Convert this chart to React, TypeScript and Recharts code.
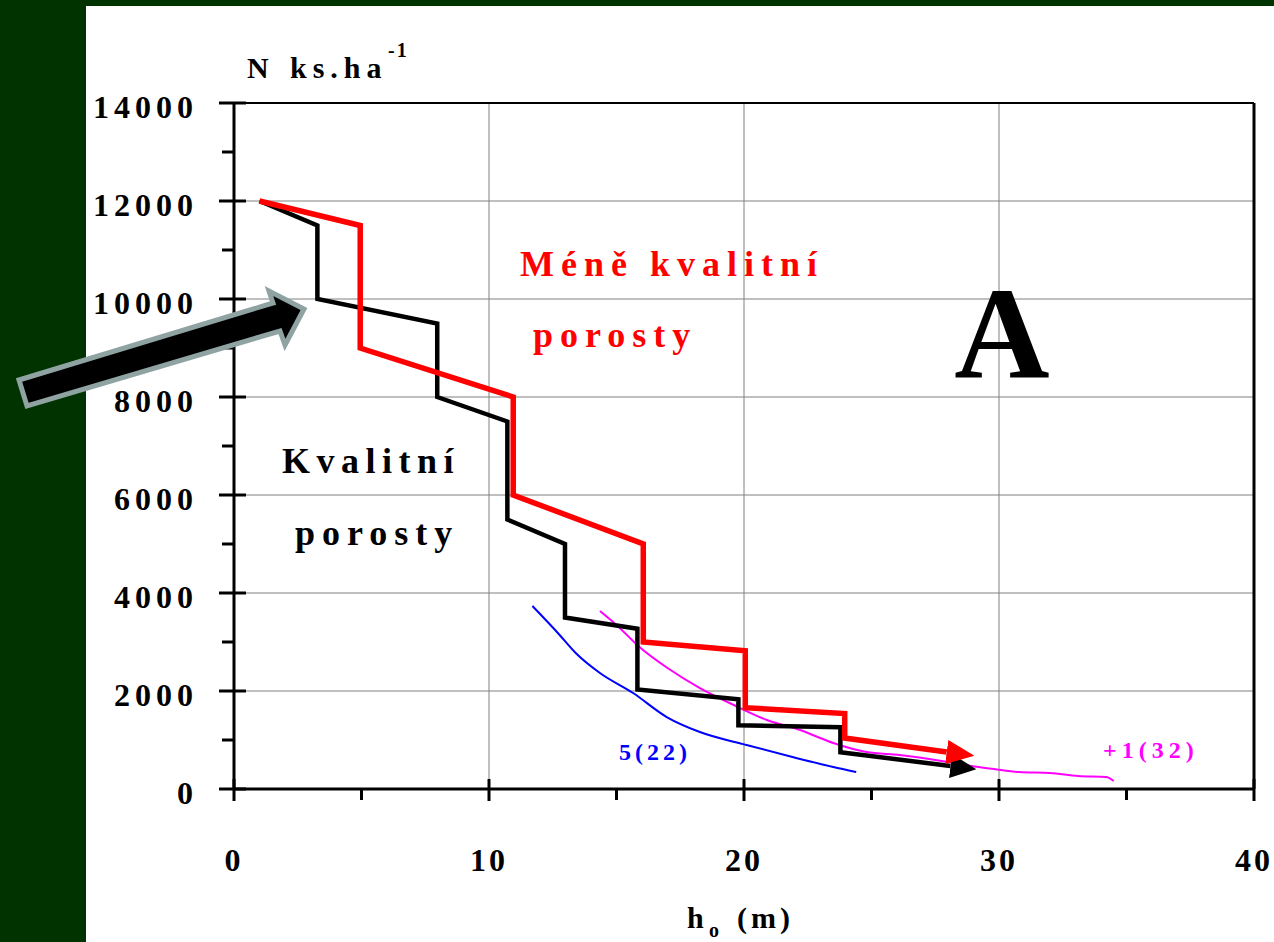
import { LineChart, Line, XAxis, YAxis, ReferenceLine } from 'recharts';

// stand density N (ks/ha) vs top height h_o (m)
const kvalitniX = [1, 3.27, 3.27, 7.97, 7.97, 10.72, 10.72, 12.98, 12.98, 15.82, 15.82, 19.78, 19.78, 23.78, 23.78, 28.1];
const kvalitniN = [12000, 11500, 10000, 9500, 8000, 7500, 5500, 5000, 3500, 3270, 2030, 1830, 1300, 1260, 750, 470];

const meneX = [1, 4.95, 4.95, 10.95, 10.95, 16.05, 16.05, 20.05, 20.05, 23.95, 23.95, 27.95];
const meneN = [12000, 11500, 9000, 8000, 6000, 5000, 3000, 2820, 1660, 1540, 1040, 755];

const curve5X = [11.7, 12.7, 13.4, 14.35, 15.65, 16.97, 18.27, 20.1, 21.9, 23.5, 24.4];
const curve5N = [3735, 3184, 2776, 2367, 1959, 1469, 1163, 898, 653, 449, 347];

const curve1X = [14.35, 15.0, 15.9, 17.0, 18.27, 19.6, 20.9, 22.2, 23.5, 24.8, 26.1, 28.0, 28.9, 29.8, 30.8, 32.0, 33.1, 34.2, 34.5];
const curve1N = [3633, 3347, 2898, 2469, 2061, 1714, 1408, 1204, 939, 755, 694, 551, 469, 408, 347, 327, 265, 245, 163];

const xTicks = [0, 5, 10, 15, 20, 25, 30, 35, 40];
const yTicks = [0, 1000, 2000, 3000, 4000, 5000, 6000, 7000, 8000, 9000, 10000, 11000, 12000, 13000, 14000];
const xGrid = [10, 20, 30];
const yGrid = [2000, 4000, 6000, 8000, 10000, 12000];

const toRows = (xs: number[], ns: number[]) => xs.map((x, i) => ({ x, n: ns[i] }));

const FONT = '"Liberation Serif", "Times New Roman", serif';

const YTick = (props: any) => {
  const { x, y, payload } = props;
  const major = payload.value % 2000 === 0;
  return (
    <g>
      <line x1={major ? x - 15 : x - 12} x2={major ? x + 12 : x} y1={y} y2={y} stroke="#000" strokeWidth={3} />
      {major && (
        <text x={x - 36} y={y + 15} textAnchor="end" fontFamily={FONT} fontWeight="bold" fontSize={32} letterSpacing={5} fill="#000">
          {payload.value}
        </text>
      )}
    </g>
  );
};

const XTick = (props: any) => {
  const { x, y, payload } = props;
  const major = payload.value % 10 === 0;
  return (
    <g>
      <line x1={x} x2={x} y1={major ? y - 10 : y} y2={major ? y + 12 : y + 11} stroke="#000" strokeWidth={3} />
      {major && (
        <text x={x} y={y + 82} textAnchor="middle" fontFamily={FONT} fontWeight="bold" fontSize={32} letterSpacing={3} fill="#000">
          {payload.value}
        </text>
      )}
    </g>
  );
};

export default function App() {
  return (
    <div style={{ position: 'fixed', left: 0, top: 0, width: 1274, height: 942, background: '#003300' }}>
      <div style={{ position: 'absolute', left: 86, top: 6, right: 0, bottom: 0, background: '#fff' }} />
      <div style={{ position: 'absolute', left: 0, top: 0 }}>
        <LineChart width={1274} height={942} margin={{ top: 103, right: 20, bottom: 93, left: 174 }}>
          <XAxis
            type="number"
            dataKey="x"
            domain={[0, 40]}
            ticks={xTicks}
            interval={0}
            height={60}
            tickLine={false}
            tickSize={0}
            tickMargin={0}
            axisLine={{ stroke: '#000', strokeWidth: 3 }}
            tick={<XTick />}
          />
          <YAxis
            type="number"
            dataKey="n"
            domain={[0, 14000]}
            ticks={yTicks}
            interval={0}
            width={60}
            tickLine={false}
            tickSize={0}
            tickMargin={0}
            axisLine={{ stroke: '#000', strokeWidth: 3 }}
            tick={<YTick />}
          />
          {xGrid.map((v) => (
            <ReferenceLine key={`gx${v}`} x={v} stroke="#808080" strokeWidth={1} />
          ))}
          {yGrid.map((v) => (
            <ReferenceLine key={`gy${v}`} y={v} stroke="#808080" strokeWidth={1} />
          ))}
          <ReferenceLine y={14000} stroke="#000" strokeWidth={2} />
          <ReferenceLine x={40} stroke="#000" strokeWidth={3} />
          <Line data={toRows(curve5X, curve5N)} dataKey="n" type="monotone" stroke="#0000ff" strokeWidth={2} dot={false} activeDot={false} isAnimationActive={false} />
          <Line data={toRows(curve1X, curve1N)} dataKey="n" type="monotone" stroke="#ff00ff" strokeWidth={2} dot={false} activeDot={false} isAnimationActive={false} />
          <Line data={toRows(kvalitniX, kvalitniN)} dataKey="n" type="linear" stroke="#000" strokeWidth={4.5} dot={false} activeDot={false} markerEnd="url(#headBlack)" isAnimationActive={false} />
          <Line data={toRows(meneX, meneN)} dataKey="n" type="linear" stroke="#ff0000" strokeWidth={5.5} dot={false} activeDot={false} markerEnd="url(#headRed)" isAnimationActive={false} />
        </LineChart>
      </div>
      <svg width={1274} height={942} style={{ position: 'absolute', left: 0, top: 0, pointerEvents: 'none' }}>
        <defs>
          <marker id="headRed" markerUnits="userSpaceOnUse" markerWidth={28} markerHeight={24} refX={0} refY={12} orient="auto" viewBox="0 0 28 24">
            <path d="M0,0 L28,12 L0,24 Z" fill="#ff0000" />
          </marker>
          <marker id="headBlack" markerUnits="userSpaceOnUse" markerWidth={26} markerHeight={24} refX={0} refY={12} orient="auto" viewBox="0 0 26 24">
            <path d="M0,0 L26,12 L0,24 Z" fill="#000" />
          </marker>
        </defs>
        <g fontFamily={FONT} fontWeight="bold">
          <text x={247} y={78} fontSize={30} fill="#000">N</text>
          <text x={290} y={78} fontSize={30} letterSpacing={6} fill="#000">ks.ha</text>
          <text x={388} y={57} fontSize={20} letterSpacing={2} fill="#000">-1</text>

          <text x={687} y={928} fontSize={30} fill="#000">h</text>
          <text x={709} y={937} fontSize={20} fill="#000">o</text>
          <text x={737} y={928} fontSize={30} letterSpacing={4} fill="#000">(m)</text>

          <text x={520} y={276} fontSize={36} letterSpacing={7} fill="#ff0000">Méně kvalitní</text>
          <text x={533} y={347} fontSize={36} letterSpacing={7} fill="#ff0000">porosty</text>
          <text x={282} y={473} fontSize={36} letterSpacing={6.5} fill="#000">Kvalitní</text>
          <text x={295} y={545} fontSize={36} letterSpacing={7} fill="#000">porosty</text>

          <text x={1002} y={378} fontSize={132} textAnchor="middle" fill="#000">A</text>

          <text x={619} y={760} fontSize={24} letterSpacing={4} fill="#0000ff">5(22)</text>
          <text x={1103} y={758} fontSize={24} letterSpacing={5} fill="#ff00ff">+1(32)</text>
        </g>
        <polygon
          points="19,380 273,303 269,291 304,309 285,345 280,331 27,406"
          fill="#000"
          stroke="#8fa3a3"
          strokeWidth={5}
          strokeLinejoin="miter"
        />
      </svg>
    </div>
  );
}
